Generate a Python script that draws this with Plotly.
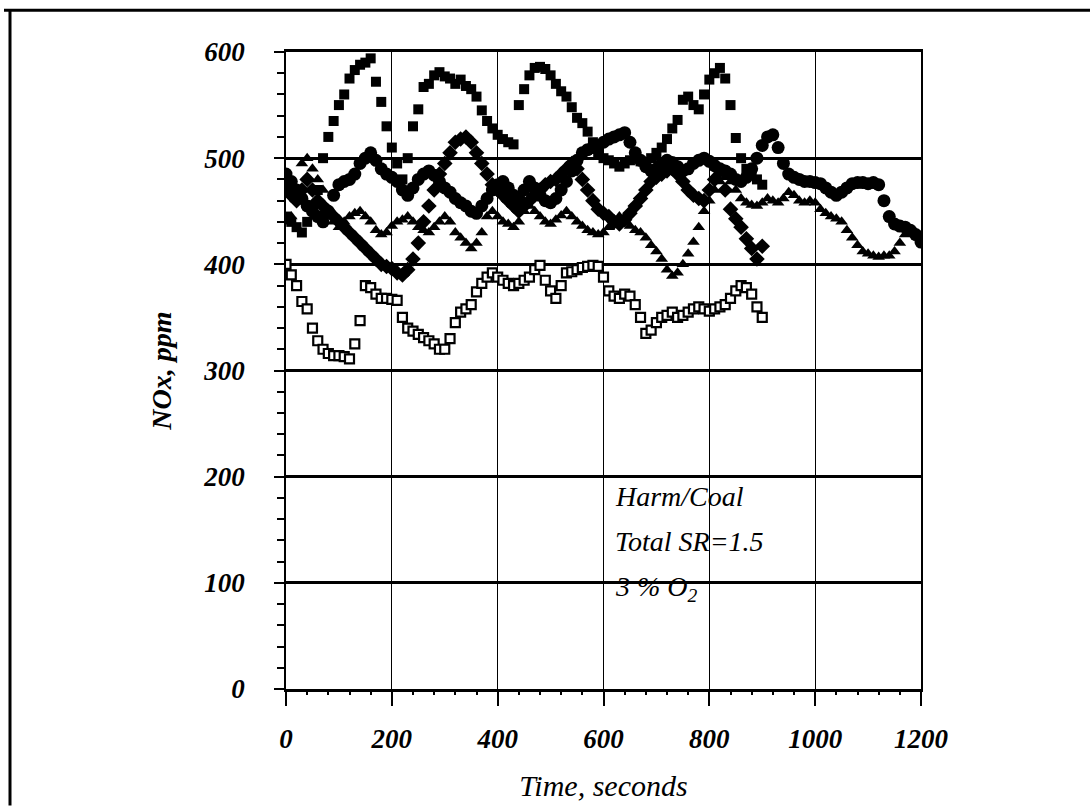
import plotly.graph_objects as go

# ---------------- data ----------------
t_long = list(range(0, 1210, 10))   # seconds, 0..1200
t_short = list(range(0, 910, 10))   # seconds, 0..900

sq_filled = [445, 440, 435, 430, 440, 455, 470, 500, 520, 535, 550, 560, 575, 583, 588, 590, 594, 572, 553, 530,
             510, 495, 480, 500, 530, 546, 567, 570, 578, 581, 577, 575, 570, 574, 568, 565, 558, 545, 535, 528,
             522, 518, 515, 513, 550, 565, 578, 585, 586, 584, 578, 570, 563, 558, 548, 538, 533, 525, 515, 505,
             500, 498, 495, 492, 495, 498, 500, 497, 495, 500, 505, 510, 518, 528, 536, 555, 558, 550, 546, 560,
             574, 580, 585, 575, 550, 519, 500, 490, 485, 480, 475]

circles = [485, 478, 470, 462, 455, 450, 445, 440, 450, 465, 475, 478, 480, 485, 495, 500, 505, 498, 490, 485,
           482, 478, 470, 465, 472, 480, 485, 488, 484, 478, 472, 468, 462, 458, 455, 450, 448, 455, 462, 470,
           475, 478, 472, 465, 462, 470, 478, 472, 465, 460, 458, 462, 470, 478, 488, 498, 505, 508, 510, 512,
           515, 518, 520, 522, 524, 515, 505, 498, 492, 488, 490, 495, 498, 496, 492, 488, 490, 495, 498, 500,
           497, 493, 490, 488, 485, 480, 478, 482, 490, 500, 512, 520, 522, 510, 495, 485, 482, 480, 478, 478,
           477, 476, 472, 468, 465, 468, 472, 476, 477, 477, 476, 477, 475, 460, 445, 438, 436, 435, 432, 428,
           421]

triangles = [440, 445, 470, 495, 500, 490, 480, 470, 450, 440, 435, 440, 445, 448, 450, 445, 440, 432, 428, 430,
             436, 440, 442, 445, 440, 435, 432, 430, 435, 440, 445, 440, 430, 425, 420, 415, 420, 430, 445, 450,
             445, 440, 438, 435, 440, 450, 455, 450, 445, 440, 438, 442, 446, 450, 445, 440, 436, 432, 430, 428,
             430, 435, 440, 445, 440, 436, 432, 430, 425, 418, 412, 405, 395, 389, 392, 400, 410, 421, 435, 450,
             460, 470, 478, 482, 478, 470, 462, 458, 456, 455, 458, 462, 460, 458, 462, 468, 465, 460, 458, 460,
             458, 452, 448, 445, 443, 440, 432, 425, 418, 412, 410, 408, 407, 408, 408, 412, 420, 428, 432, 430,
             425]

diamonds = [470, 465, 460, 470, 480, 470, 460, 455, 450, 445, 440, 435, 430, 425, 420, 415, 410, 405, 400, 398,
            396, 392, 390, 395, 405, 420, 440, 455, 470, 485, 495, 505, 515, 518, 520, 515, 505, 495, 485, 475,
            470, 465, 460, 455, 450, 455, 460, 465, 470, 475, 478, 480, 485, 490, 495, 490, 480, 470, 460, 452,
            448, 445, 440, 438, 442, 448, 455, 462, 470, 478, 482, 485, 488, 490, 485, 478, 470, 465, 462, 460,
            470, 480, 488, 470, 452, 443, 435, 424, 415, 405, 417]

sq_open = [400, 390, 380, 365, 358, 340, 328, 320, 316, 314, 314, 313, 311, 325, 347, 380, 378, 372, 368, 368,
           367, 366, 350, 340, 337, 334, 331, 328, 325, 320, 320, 330, 345, 355, 358, 362, 374, 382, 388, 392,
           388, 385, 382, 380, 382, 385, 388, 395, 399, 385, 375, 368, 380, 392, 393, 395, 397, 398, 399, 398,
           388, 375, 370, 368, 372, 370, 362, 350, 335, 338, 345, 350, 352, 355, 350, 352, 355, 358, 360, 358,
           356, 358, 360, 362, 368, 375, 380, 378, 372, 360, 350]

x_ticks = [0, 200, 400, 600, 800, 1000, 1200]
y_ticks = [0, 100, 200, 300, 400, 500, 600]
note_lines = ["Harm/Coal", "Total SR=1.5", "3 % O<sub>2</sub>"]
note_y = [181, 139, 95]

# ---------------- figure ----------------
SERIF = "Liberation Serif"
fig = go.Figure()

def add(x, y, symbol, size, filled=True):
    fig.add_trace(go.Scatter(
        x=x, y=y, mode="markers",
        marker=dict(symbol=symbol, size=size,
                    color="black" if filled else "white",
                    line=dict(color="black", width=0 if filled else 2.2)),
        showlegend=False, hoverinfo="skip"))

add(t_short, sq_open, "square", 9, filled=False)
add(t_long, triangles, "triangle-up", 11)
add(t_short, diamonds, "diamond", 12)
add(t_long, circles, "circle", 13)
add(t_short, sq_filled, "square", 10)

for txt, yy in zip(note_lines, note_y):
    fig.add_annotation(x=618, y=yy, xref="x", yref="y", text=txt, showarrow=False,
                       xanchor="left", yanchor="middle",
                       font=dict(family=SERIF, size=28, color="black", style="italic"))

# outer frame of the scanned figure (paper coords)
PL, PR, PT, PB = 286, 921, 52, 692
def px(xp):
    return (xp - PL) / (PR - PL)
def py(yp):
    return (PB - yp) / (PB - PT)

fig.add_shape(type="line", xref="paper", yref="paper", x0=px(4), x1=px(1090), y0=py(10), y1=py(10),
              line=dict(color="black", width=3))
fig.add_shape(type="line", xref="paper", yref="paper", x0=px(10), x1=px(10), y0=py(10), y1=py(809),
              line=dict(color="black", width=3))

tickfont = dict(family=SERIF, size=27, color="black", style="italic", weight="bold")

fig.update_layout(
    width=1090, height=809,
    margin=dict(l=PL, r=1090 - PR, t=PT, b=809 - PB, pad=0),
    paper_bgcolor="white", plot_bgcolor="white",
    xaxis=dict(range=[0, 1200], tickvals=x_ticks, ticktext=[str(v) for v in x_ticks],
               showgrid=True, gridcolor="black", gridwidth=1.3,
               showline=True, linecolor="black", linewidth=3, mirror=True,
               ticks="outside", ticklen=14, tickwidth=1.5, tickcolor="black",
               minor=dict(dtick=40, ticks="outside", ticklen=3, tickwidth=1.5, tickcolor="black", showgrid=False),
               zeroline=False, tickfont=tickfont, ticklabelstandoff=10,
               title=dict(text="Time, seconds", standoff=22,
                          font=dict(family=SERIF, size=30, color="black", style="italic"))),
    yaxis=dict(range=[0, 600], tickvals=y_ticks, ticktext=[str(v) for v in y_ticks],
               showgrid=True, gridcolor="black", gridwidth=2.5,
               showline=True, linecolor="black", linewidth=1.5, mirror=True,
               ticks="outside", ticklen=10, tickwidth=2, tickcolor="black",
               minor=dict(dtick=20, ticks="outside", ticklen=7, tickwidth=2, tickcolor="black", showgrid=False),
               zeroline=False, tickfont=tickfont, ticklabelstandoff=24,
               title=dict(text="NOx, ppm", standoff=24,
                          font=dict(family=SERIF, size=28, color="black", style="italic", weight="bold"))),
)

fig.write_html("out.html")
